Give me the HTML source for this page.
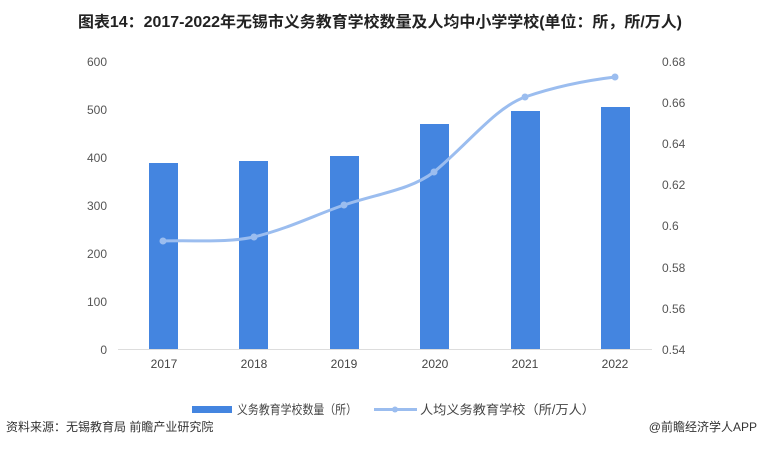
<!DOCTYPE html>
<html><head><meta charset="utf-8"><style>
body{margin:0;width:760px;height:448px;background:#fff;overflow:hidden;font-family:"Liberation Sans","Noto Sans CJK SC",sans-serif}
</style></head><body>
<svg width="760" height="448" xmlns="http://www.w3.org/2000/svg" font-family="Liberation Sans, Noto Sans CJK SC, sans-serif">
<text x="380" y="27" text-anchor="middle" font-size="15.5" font-weight="bold" fill="#222" textLength="604" lengthAdjust="spacingAndGlyphs">图表14：2017-2022年无锡市义务教育学校数量及人均中小学学校(单位：所，所/万人)</text>
<g font-size="12" fill="#555" text-anchor="end">
<text x="107" y="66">600</text><text x="107" y="114">500</text><text x="107" y="162">400</text><text x="107" y="210">300</text><text x="107" y="258">200</text><text x="107" y="306">100</text><text x="107" y="354">0</text>
</g>
<g font-size="12" fill="#555">
<text x="662" y="66">0.68</text><text x="662" y="107">0.66</text><text x="662" y="148">0.64</text><text x="662" y="189">0.62</text><text x="662" y="230">0.6</text><text x="662" y="272">0.58</text><text x="662" y="313">0.56</text><text x="662" y="354">0.54</text>
</g>
<line x1="118" y1="349.5" x2="652" y2="349.5" stroke="#ddd" stroke-width="1"/>
<g fill="#4485e0">
<rect x="149" y="163" width="29" height="186"/>
<rect x="239" y="161" width="29" height="188"/>
<rect x="330" y="156" width="29" height="193"/>
<rect x="420" y="124" width="29" height="225"/>
<rect x="511" y="111" width="29" height="238"/>
<rect x="601" y="107" width="29" height="242"/>
</g>
<g font-size="12" fill="#444" text-anchor="middle">
<text x="164" y="368">2017</text><text x="254" y="368">2018</text><text x="344" y="368">2019</text><text x="435" y="368">2020</text><text x="525" y="368">2021</text><text x="615" y="368">2022</text>
</g>
<path d="M163,241 C200,240 225,243 254,237 C290,228 315,215 344,205 C380,193 410,190 434,172 C470,142 495,108 525,97 C560,85 590,80 615,77" fill="none" stroke="#9bbdef" stroke-width="3"/>
<g fill="#9bbdef">
<circle cx="163" cy="241" r="3.5"/><circle cx="254" cy="237" r="3.5"/><circle cx="344" cy="205" r="3.5"/><circle cx="434" cy="172" r="3.5"/><circle cx="525" cy="97" r="3.5"/><circle cx="615" cy="77" r="3.5"/>
</g>
<rect x="192" y="406" width="40" height="7" fill="#4485e0"/>
<text x="237" y="414" font-size="12.5" fill="#444" textLength="120" lengthAdjust="spacingAndGlyphs">义务教育学校数量（所）</text>
<line x1="374" y1="409.5" x2="417" y2="409.5" stroke="#9bbdef" stroke-width="3"/>
<circle cx="395" cy="409.5" r="3" fill="#9bbdef"/>
<text x="420" y="414" font-size="12.5" fill="#444" textLength="175" lengthAdjust="spacingAndGlyphs">人均义务教育学校（所/万人）</text>
<text x="6" y="431" font-size="12" fill="#333">资料来源：无锡教育局 前瞻产业研究院</text>
<text x="757" y="431" font-size="12" fill="#333" text-anchor="end">@前瞻经济学人APP</text>
</svg>
</body></html>
